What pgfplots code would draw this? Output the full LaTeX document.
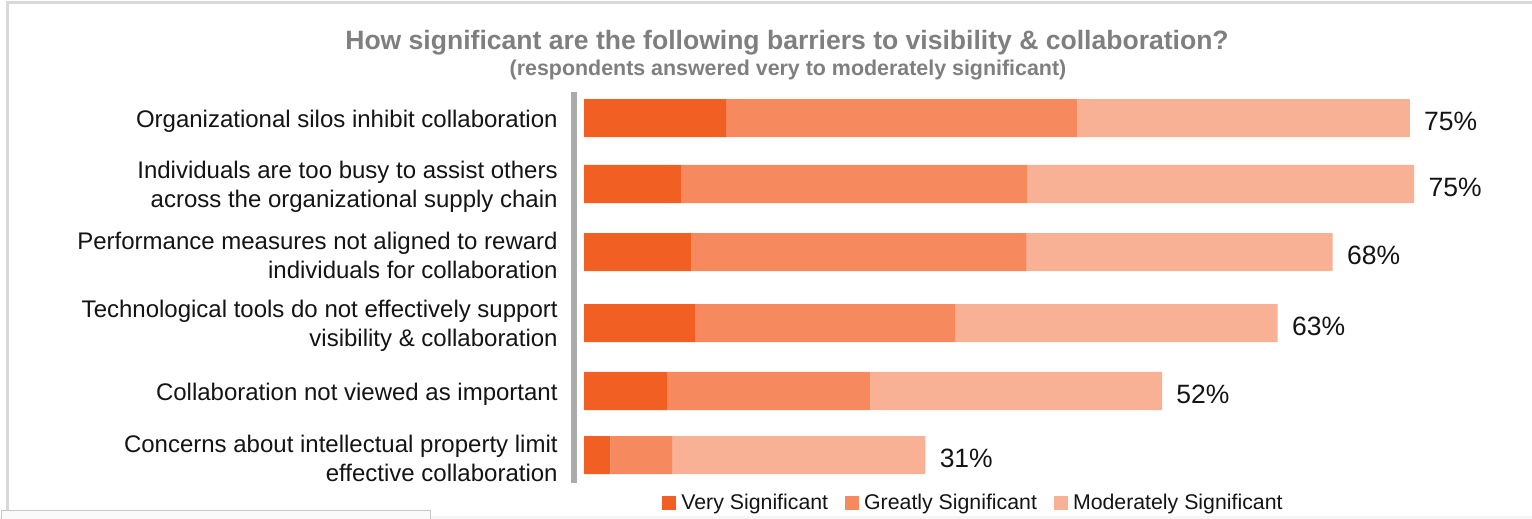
\documentclass[border=0pt]{standalone}
\usepackage{fontspec}
\setmainfont{Liberation Sans}
\usepackage{pgfplots}
\pgfplotsset{compat=1.18}
\usepackage{pgfplotstable}

\definecolor{vsig}{HTML}{F15F22}
\definecolor{gsig}{HTML}{F6895E}
\definecolor{msig}{HTML}{F8B195}
\definecolor{axgray}{HTML}{ABABAB}
\definecolor{titlegray}{HTML}{7F7F7F}
\definecolor{framegray}{HTML}{D9D9D9}

\pgfplotstableread{
y very greatly moderately total
0 12.9 31.9 30.2 75
0.979 8.8 31.5 35.1 75
1.988 9.7 30.5 27.8 68
3.042 10.1 23.6 29.3 63
4.050 7.6 18.4 26.5 52
5 2.4 5.6 23.0 31
}\datatable

\pgfplotsset{myaxis/.style={at={(286.85pt,18pt)}, anchor=south west,
  scale only axis, width=445.55pt, height=195.5pt,
  xmin=-0.94, xmax=80, ymin=-0.386, ymax=5.415, y dir=reverse}}

\begin{document}
\begin{tikzpicture}
\useasboundingbox (0,0) rectangle (766pt,259.5pt);
\fill[white] (0,0) rectangle (766pt,259.5pt);
\draw[framegray, line width=1.5pt] (3.6pt,0) -- (3.6pt,258pt) -- (766pt,258pt);
\fill[black!4] (0,0) rectangle (766pt,1.5pt);
\draw[black!22, line width=0.5pt, fill=black!2] (0.5pt,-1pt) rectangle (215pt,4.3pt);

\node[font=\bfseries\fontsize{13.27}{16}\selectfont, text=titlegray] at (393.5pt,238pt)
  {How significant are the following barriers to visibility \& collaboration?};
\node[font=\bfseries\fontsize{10.7}{13}\selectfont, text=titlegray] at (394pt,224.5pt)
  {(respondents answered very to moderately significant)};

\begin{axis}[myaxis,
  xbar stacked, bar width=0.564,
  axis x line=none, axis y line*=left,
  y axis line style={line width=3pt, draw=axgray, -},
  ytick={0,0.979,1.988,3.042,4.050,5},
  yticklabels={Organizational silos inhibit collaboration,
    {Individuals are too busy to assist others\\across the organizational supply chain},
    {Performance measures not aligned to reward\\individuals for collaboration},
    {Technological tools do not effectively support\\visibility \& collaboration},
    Collaboration not viewed as important,
    {Concerns about intellectual property limit\\effective collaboration}},
  major tick length=0pt, ytick style={draw=none},
  yticklabel style={align=right, inner sep=0pt, xshift=-7.85pt, yshift=-1.5pt, text=black!92,
    font=\fontsize{12}{14.5}\selectfont},
  legend image code/.code={\fill[#1] (0pt,-3.5pt) rectangle (7pt,3.5pt);},
  legend style={at={(0.4475,-0.051)}, anchor=center, draw=none, fill=none,
    legend columns=3, font=\fontsize{10.65}{12}\selectfont, text=black!92,
    nodes={inner sep=0pt},
    /tikz/every odd column/.append style={column sep=2.5pt},
    /tikz/every even column/.append style={column sep=8.5pt}},
]
\addplot[fill=vsig, draw=none] table[x=very, y=y] {\datatable};
\addlegendentry{Very Significant}
\addplot[fill=gsig, draw=none] table[x=greatly, y=y] {\datatable};
\addlegendentry{Greatly Significant}
\addplot[fill=msig, draw=none] table[x=moderately, y=y] {\datatable};
\addlegendentry{Moderately Significant}
\end{axis}

\begin{axis}[myaxis, hide axis]
\addplot[draw=none, mark=none, point meta=explicit,
  nodes near coords={\pgfmathprintnumber[fixed,precision=0,assume math mode=true]{\pgfplotspointmeta}\%},
  every node near coord/.append style={anchor=west, inner sep=0pt, xshift=7pt, yshift=-1.5pt,
    text=black!92, font=\fontsize{13.25}{15}\selectfont}]
  table[x expr=\thisrow{very}+\thisrow{greatly}+\thisrow{moderately}, y=y, meta=total] {\datatable};
\end{axis}
\end{tikzpicture}
\end{document}
